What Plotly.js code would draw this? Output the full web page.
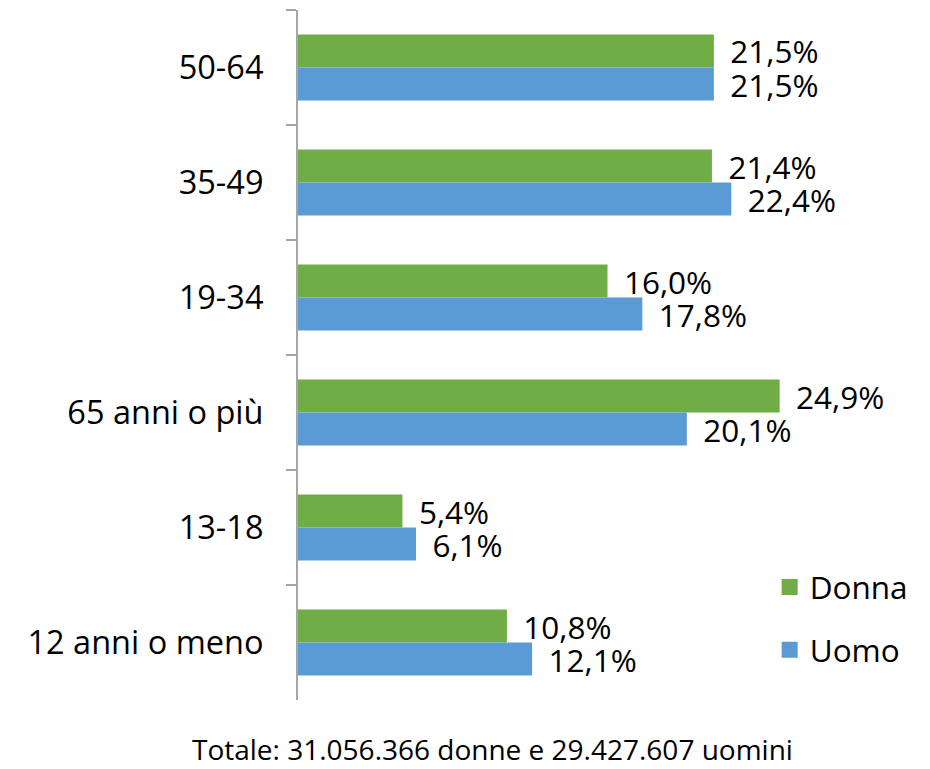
<!DOCTYPE html>
<html>
<head>
<meta charset="utf-8">
<script src="https://cdn.plot.ly/plotly-3.0.1.min.js"></script>
<style>html,body{margin:0;padding:0;background:#fff;}#chart{width:930px;height:769px;}</style>
</head>
<body>
<div id="chart"></div>
<script>
const categories = ["50-64", "35-49", "19-34", "65 anni o più", "13-18", "12 anni o meno"];
const donna = [21.5, 21.4, 16.0, 24.9, 5.4, 10.8];
const uomo = [21.5, 22.4, 17.8, 20.1, 6.1, 12.1];
const seriesNames = ["Donna", "Uomo"];
const colors = ["#70AD47", "#5B9BD5"];
const footnote = "Totale: 31.056.366 donne e 29.427.607 uomini";

const FONT = "Open Sans, sans-serif";
const fmt = v => "\u00a0\u2009" + v.toFixed(1).replace(".", ",") + "%";

function barTrace(name, vals, color) {
  return {
    type: "bar", orientation: "h", name: name,
    y: categories, x: vals,
    marker: {color: color},
    text: vals.map(fmt), textposition: "outside", textangle: 0,
    constraintext: "none", cliponaxis: false,
    textfont: {family: FONT, size: 31.5, color: "#000"},
    showlegend: false, hoverinfo: "skip"
  };
}
function legendTrace(name, color, grp) {
  return {
    type: "scatter", mode: "markers", name: name, x: [null], y: [null],
    marker: {symbol: "square", size: 16, color: color},
    legendgroup: grp, showlegend: true
  };
}

const data = [
  barTrace(seriesNames[0], donna, colors[0]),
  barTrace(seriesNames[1], uomo, colors[1]),
  legendTrace(seriesNames[0], colors[0], "d"),
  legendTrace(seriesNames[1], colors[1], "u")
];

const layout = {
  width: 930, height: 769,
  margin: {l: 298, r: 13, t: 10, b: 69},
  paper_bgcolor: "#fff", plot_bgcolor: "#fff",
  barmode: "group", bargap: 0.426, bargroupgap: 0,
  font: {family: FONT, color: "#000"},
  xaxis: {visible: false, range: [0, 32], fixedrange: true},
  yaxis: {
    type: "category", autorange: "reversed",
    categoryorder: "array", categoryarray: categories,
    showline: true, linecolor: "#a6a6a6", linewidth: 2,
    ticks: "outside", tickson: "boundaries", ticklen: 10, tickwidth: 2, tickcolor: "#a6a6a6",
    ticklabelstandoff: 26,
    tickfont: {family: FONT, size: 32.5, color: "#000"},
    showgrid: false, zeroline: false, fixedrange: true
  },
  showlegend: true,
  legend: {
    x: 0.762, xanchor: "left", y: 0.203, yanchor: "top",
    traceorder: "grouped", tracegroupgap: 19,
    font: {family: FONT, size: 31.5, color: "#000"},
    bgcolor: "rgba(0,0,0,0)"
  },
  annotations: [{
    text: footnote, xref: "paper", yref: "paper", x: 0.315, y: -0.071,
    xanchor: "center", yanchor: "middle", showarrow: false,
    font: {family: FONT, size: 28, color: "#000"}
  }]
};

Plotly.newPlot("chart", data, layout, {displayModeBar: false, staticPlot: true});
</script>
</body>
</html>
